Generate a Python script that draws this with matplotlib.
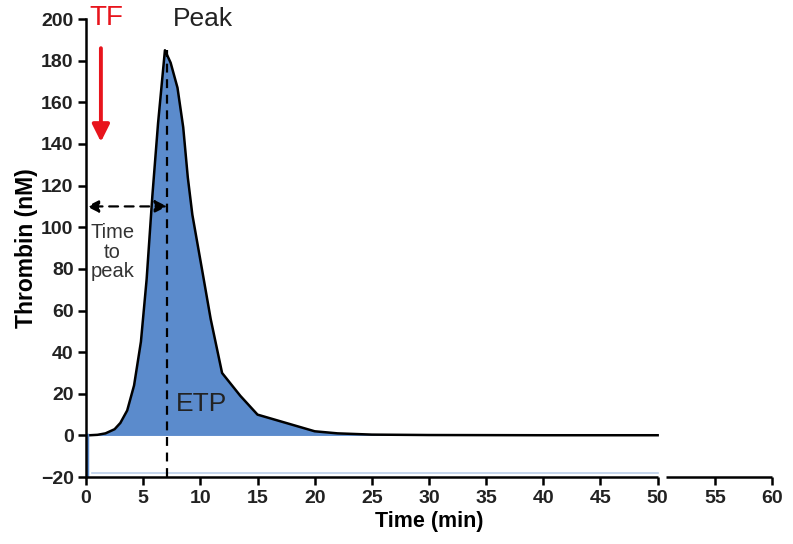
import matplotlib.pyplot as plt
import numpy as np

plt.rcParams['font.family'] = ['Liberation Sans', 'DejaVu Sans']

# thrombin generation curve
time_min = [0, 1.0, 1.7, 2.5, 3.0, 3.6, 4.2, 4.8, 5.3, 5.8, 6.3, 6.9, 7.4, 8.0, 8.5, 8.9, 9.3, 10.2, 10.9, 11.9, 13.5, 15.0, 17.5, 20.0, 22.0, 25.0, 30.0, 40.0, 50.0]
thrombin_nM = [0, 0.3, 1, 3, 6, 12, 24, 45, 75, 115, 150, 185, 179, 167, 148, 124, 106, 78, 56, 30, 19, 10, 6, 2, 1, 0.4, 0.2, 0.1, 0.1]

peak_time = 7.1
peak_value = 185
ttp_level = 110

xticks = np.arange(0, 61, 5)
yticks = np.arange(-20, 201, 20)

fig = plt.figure(figsize=(7.93, 5.44), dpi=100)
ax = fig.add_axes([0.1085, 0.123, 0.865, 0.842])

fill_color = '#5b8bcc'
ax.fill_between(time_min, thrombin_nM, 0, color=fill_color, lw=0)
ax.plot(time_min, thrombin_nM, color='black', lw=1.8, solid_joinstyle='round')

# baseline artefacts of the blue fill
ax.plot([0.5, 50], [-18, -18], color='#bcd0ea', lw=1.2)
ax.plot([0.12, 0.12], [-20, 0], color=fill_color, lw=2.5)

# time to peak marker
ax.plot([peak_time, peak_time], [-20, peak_value], color='black', lw=1.6, ls=(0, (4, 3)))
ax.annotate('', xy=(0.05, ttp_level), xytext=(peak_time, ttp_level),
            arrowprops=dict(arrowstyle='<|-|>', color='black', lw=1.6, ls=(0, (4, 3)),
                            mutation_scale=18, shrinkA=0, shrinkB=0))
ax.text(2.3, 88, 'Time\nto\npeak', ha='center', va='center', fontsize=14.5,
        color='#333333', linespacing=1.05)

# tissue factor trigger
ax.text(1.75, 200.5, 'TF', color='#e8141c', fontsize=20, ha='center', va='center')
ax.annotate('', xy=(1.3, 141), xytext=(1.3, 186),
            arrowprops=dict(arrowstyle='-|>', color='#e8141c', lw=2.8,
                            mutation_scale=26, shrinkA=0, shrinkB=0))

ax.text(10.2, 200, 'Peak', fontsize=19, ha='center', va='center', color='#222222')
ax.text(10.1, 15, 'ETP', fontsize=19, ha='center', va='center', color='#222222')

ax.set_xlim(0, 60)
ax.set_ylim(-20, 200)
ax.set_xticks(xticks)
ax.set_yticks(yticks)
ax.set_yticklabels(['\u221220' if v < 0 else str(v) for v in yticks])

for s in ['top', 'right', 'bottom']:
    ax.spines[s].set_visible(False)
ax.spines['left'].set_linewidth(1.8)
ax.spines['left'].set_bounds(-20, 200)

# broken time axis
ax.plot([0, 50], [-20, -20], color='black', lw=1.8, clip_on=False, solid_capstyle='butt')
ax.plot([50.7, 60], [-20, -20], color='black', lw=1.8, clip_on=False, solid_capstyle='butt')

ax.tick_params(axis='both', direction='out', length=6, width=1.8, labelsize=14, pad=3)
for lab in ax.get_xticklabels() + ax.get_yticklabels():
    lab.set_fontweight('bold')
    lab.set_color('#222222')

ax.set_xlabel('Time (min)', fontsize=15.5, fontweight='bold', labelpad=3)
ax.set_ylabel('Thrombin (nM)', fontsize=16.5, fontweight='bold', labelpad=2)

fig.savefig('out.png', dpi=100)
